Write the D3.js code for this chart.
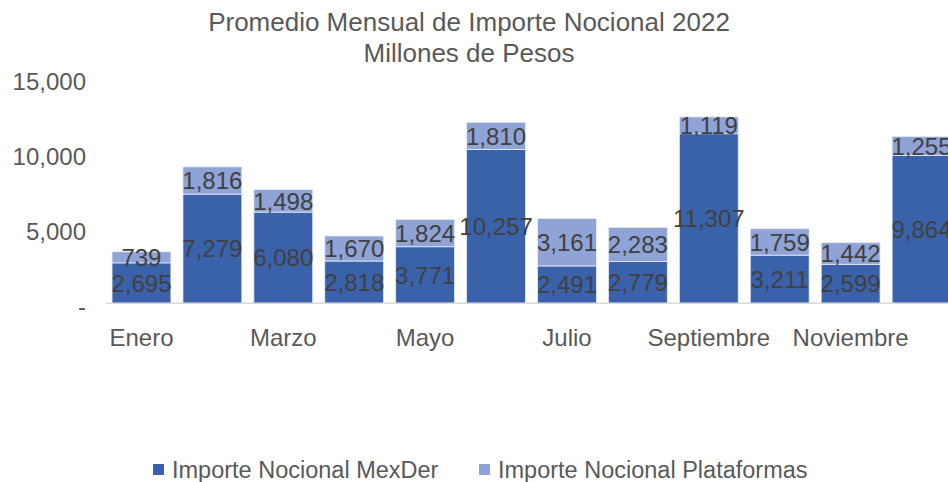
<!DOCTYPE html>
<html>
<head>
<meta charset="utf-8">
<script src="https://cdn.jsdelivr.net/npm/d3@7"></script>
<style>
  body { margin: 0; background: #fff; }
  text { font-family: "Liberation Sans", Arial, sans-serif; }
</style>
</head>
<body>
<script>
//chart data
var months = ["Enero", "Febrero", "Marzo", "Abril", "Mayo", "Junio",
              "Julio", "Agosto", "Septiembre", "Octubre", "Noviembre", "Diciembre"];
var mexder = [2695, 7279, 6080, 2818, 3771, 10257, 2491, 2779, 11307, 3211, 2599, 9864];
var plataformas = [739, 1816, 1498, 1670, 1824, 1810, 3161, 2283, 1119, 1759, 1442, 1255];
var seriesNames = ["Importe Nocional MexDer", "Importe Nocional Plataformas"];
var yTicks = [0, 5000, 10000, 15000];

var width = 948, height = 482;
var colors = ["#3a62aa", "#8fa3d6"];

var svg = d3.select("body")
    .append("svg")
    .attr("width", width)
    .attr("height", height);

//scales
var x = d3.scaleBand()
    .domain(months)
    .range([106, 957])
    .paddingInner(0.17)
    .paddingOuter(0.085);

var y = d3.scaleLinear()
    .domain([0, 15000])
    .range([303.3, 78.3]);

//title
var title = svg.append("text")
    .attr("x", 469)
    .attr("text-anchor", "middle")
    .style("font-size", "26px")
    .style("fill", "#595959");
title.append("tspan").attr("x", 469).attr("y", 31).text("Promedio Mensual de Importe Nocional 2022");
title.append("tspan").attr("x", 469).attr("y", 62).text("Millones de Pesos");

//stack the two series
var rows = months.map(function(m, i){
    return {month: m, mexder: mexder[i], plataformas: plataformas[i]};
});
var stacked = d3.stack().keys(["mexder", "plataformas"])(rows);

var layers = svg.selectAll(".layer")
    .data(stacked)
    .enter()
    .append("g")
    .attr("class", "layer")
    .attr("fill", function(d, i){ return colors[i]; });

layers.selectAll("rect")
    .data(function(d){ return d; })
    .enter()
    .append("rect")
    .attr("x", function(d){ return x(d.data.month); })
    .attr("y", function(d){ return y(d[1]); })
    .attr("width", x.bandwidth())
    .attr("height", function(d){ return y(d[0]) - y(d[1]); })
    .attr("stroke", "#e6ebf5")
    .attr("stroke-width", 0.8);

//baseline
svg.append("line")
    .attr("x1", 106).attr("x2", width)
    .attr("y1", y(0)).attr("y2", y(0))
    .attr("stroke", "#d9d9d9")
    .attr("stroke-width", 1.5);

//data labels
layers.selectAll(".lbl")
    .data(function(d){ return d; })
    .enter()
    .append("text")
    .attr("class", "lbl")
    .attr("x", function(d){ return x(d.data.month) + x.bandwidth() / 2; })
    .attr("y", function(d){ return (y(d[0]) + y(d[1])) / 2; })
    .attr("dy", "0.36em")
    .attr("text-anchor", "middle")
    .style("font-size", "24px")
    .style("fill", "#404040")
    .text(function(d){ return d3.format(",")(d[1] - d[0]); });

//y axis
var yAxis = svg.append("g")
    .attr("transform", "translate(86,0)")
    .call(d3.axisLeft(y)
        .tickValues(yTicks)
        .tickSize(0)
        .tickPadding(0)
        .tickFormat(function(d){ return d === 0 ? "-" : d3.format(",")(d); }));
yAxis.select(".domain").remove();
yAxis.selectAll("text")
    .attr("dy", "0.47em")
    .attr("y", 0)
    .style("font-size", "24px")
    .style("fill", "#595959");

//x axis, every other month labelled
var xAxis = svg.append("g")
    .attr("transform", "translate(0,338)")
    .call(d3.axisBottom(x)
        .tickValues(months.filter(function(d, i){ return i % 2 === 0; }))
        .tickSize(0)
        .tickPadding(0));
xAxis.select(".domain").remove();
xAxis.selectAll("text")
    .attr("y", 0)
    .attr("dy", "0.33em")
    .style("font-size", "24px")
    .style("fill", "#595959");

//legend
var legendX = [153, 479];
var legend = svg.selectAll(".legend")
    .data(seriesNames)
    .enter()
    .append("g")
    .attr("class", "legend")
    .attr("transform", function(d, i){ return "translate(" + legendX[i] + ",464)"; });
legend.append("rect")
    .attr("width", 11).attr("height", 11)
    .attr("fill", function(d, i){ return colors[i]; });
legend.append("text")
    .attr("x", 19)
    .attr("y", 6)
    .attr("dy", "0.36em")
    .style("font-size", "23.5px")
    .style("fill", "#595959")
    .text(function(d){ return d; });
</script>
</body>
</html>
